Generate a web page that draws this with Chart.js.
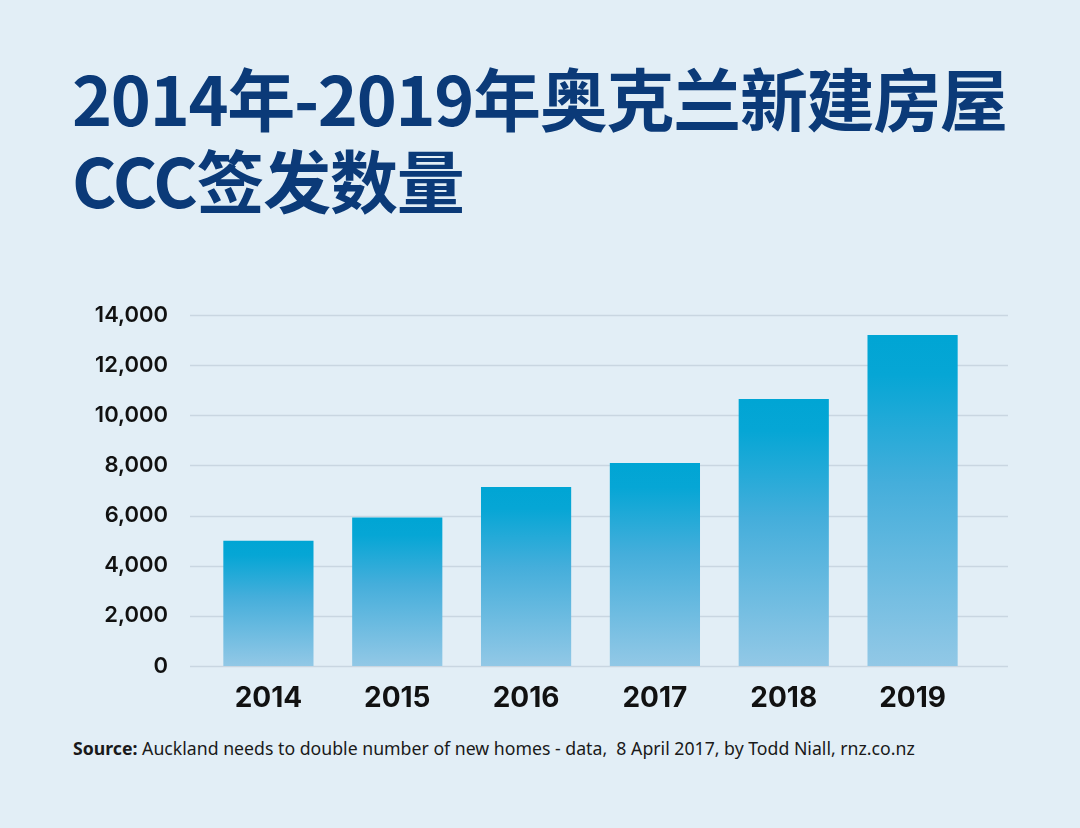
<!DOCTYPE html>
<html>
<head>
<meta charset="utf-8">
<script src="https://cdn.jsdelivr.net/npm/chart.js@4"></script>
<style>
  html, body { margin:0; padding:0; background:#e2eef6; }
  #wrap { position:relative; width:1080px; height:828px; background:#e2eef6; overflow:hidden; }
  #title { position:absolute; left:72px; top:56px; font-family:"Noto Sans CJK SC", sans-serif; font-weight:700; font-size:68px; line-height:82px; color:#0b3a78; white-space:nowrap; letter-spacing:-1.3px; }
  #source { position:absolute; left:73px; top:736px; font-family:"Noto Sans", sans-serif; font-size:17.7px; color:#1a1a1a; white-space:nowrap; letter-spacing:0px; }
  #source b { font-weight:700; }
  canvas { position:absolute; left:0; top:0; }
</style>
</head>
<body>
<div id="wrap">
  <div id="title">2014年-2019年奥克兰新建房屋<br>CCC签发数量</div>
  <div id="source"><b>Source:</b> Auckland needs to double number of new homes - data,&nbsp; 8 April 2017, by Todd Niall, rnz.co.nz</div>
  <canvas id="c" width="1080" height="828"></canvas>
</div>
<script>
const years = ["2014", "2015", "2016", "2017", "2018", "2019"];
const cccIssued = [5000, 5920, 7140, 8100, 10650, 13200];
const yTicks = [0, 2000, 4000, 6000, 8000, 10000, 12000, 14000];

const gridPlugin = {
  id: 'extGrid',
  beforeDatasetsDraw(chart) {
    const ctx = chart.ctx, y = chart.scales.y;
    ctx.save();
    ctx.strokeStyle = '#c9d6e1';
    ctx.lineWidth = 1.5;
    yTicks.forEach(v => {
      const py = Math.round(y.getPixelForValue(v)) + 0.5;
      ctx.beginPath();
      ctx.moveTo(190, py);
      ctx.lineTo(1008, py);
      ctx.stroke();
    });
    ctx.restore();
  }
};

function barGradient(context) {
  const chart = context.chart;
  const area = chart.chartArea;
  if (!area || context.dataIndex === undefined) return '#2aa9d8';
  const y = chart.scales.y;
  const v = context.dataset.data[context.dataIndex];
  const top = y.getPixelForValue(v);
  const bottom = y.getPixelForValue(0);
  const g = chart.ctx.createLinearGradient(0, top, 0, bottom);
  g.addColorStop(0, '#00a5d4');
  g.addColorStop(0.12, '#06a6d5');
  g.addColorStop(0.45, '#45aedb');
  g.addColorStop(1, '#92c8e6');
  return g;
}

new Chart(document.getElementById('c'), {
  type: 'bar',
  data: {
    labels: years,
    datasets: [{
      data: cccIssued,
      backgroundColor: barGradient,
      borderWidth: 0,
      barPercentage: 0.7,
      categoryPercentage: 1.0
    }]
  },
  options: {
    responsive: false,
    animation: false,
    devicePixelRatio: 1,
    layout: { padding: { left: 0, right: 103, top: 315, bottom: 102 } },
    plugins: { legend: { display: false }, tooltip: { enabled: false }, title: { display: false } },
    scales: {
      x: {
        grid: { display: false, drawTicks: false },
        border: { display: false },
        ticks: { color: '#111', padding: 16, font: { family: 'Inter', weight: '700', size: 28 } },
        afterFit(scale) { scale.height = 60; }
      },
      y: {
        min: 0, max: 14000,
        afterBuildTicks(scale) { scale.ticks = yTicks.map(v => ({ value: v })); },
        grid: { display: false, drawTicks: false },
        border: { display: false },
        ticks: {
          color: '#111', padding: 36,
          font: { family: 'Inter', weight: '600', size: 22 },
          callback: v => v.toLocaleString('en-US')
        },
        afterFit(scale) { scale.width = 204; }
      }
    }
  },
  plugins: [gridPlugin]
});
</script>
</body>
</html>
